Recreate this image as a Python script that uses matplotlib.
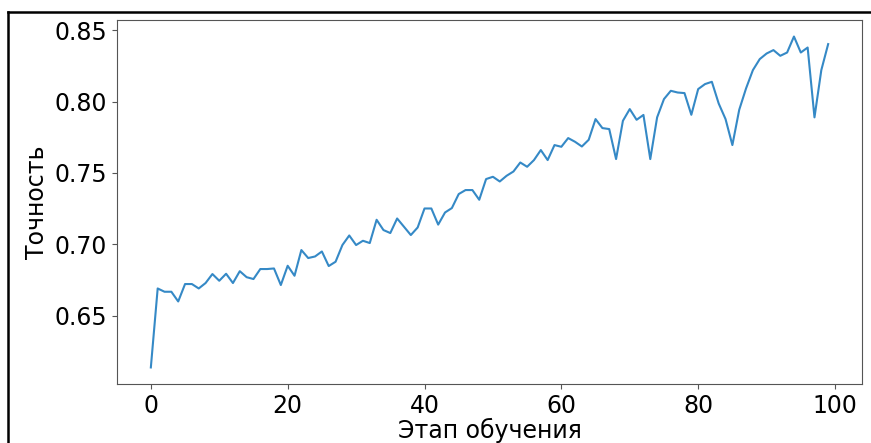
import numpy as np
import matplotlib
matplotlib.use("Agg")
import matplotlib.pyplot as plt
from matplotlib.lines import Line2D

# accuracy per training step
steps = list(range(100))
accuracy = [
    0.6138, 0.6691, 0.6668, 0.6668, 0.6600, 0.6722, 0.6722, 0.6691, 0.6729, 0.6792,
    0.6745, 0.6794, 0.6729, 0.6812, 0.6770, 0.6757, 0.6827, 0.6827, 0.6831, 0.6715,
    0.6850, 0.6780, 0.6960, 0.6904, 0.6915, 0.6950, 0.6848, 0.6878, 0.6995, 0.7062,
    0.6995, 0.7025, 0.7009, 0.7172, 0.7100, 0.7079, 0.7181, 0.7123, 0.7065, 0.7118,
    0.7251, 0.7251, 0.7138, 0.7223, 0.7254, 0.7352, 0.7380, 0.7380, 0.7312, 0.7457,
    0.7473, 0.7440, 0.7480, 0.7510, 0.7573, 0.7543, 0.7590, 0.7660, 0.7590, 0.7695,
    0.7683, 0.7744, 0.7718, 0.7685, 0.7732, 0.7877, 0.7814, 0.7807, 0.7597, 0.7865,
    0.7947, 0.7872, 0.7906, 0.7597, 0.7889, 0.8017, 0.8075, 0.8063, 0.8059, 0.7907,
    0.8087, 0.8122, 0.8138, 0.7986, 0.7877, 0.7695, 0.7942, 0.8092, 0.8220, 0.8297,
    0.8336, 0.8360, 0.8320, 0.8343, 0.8455, 0.8343, 0.8378, 0.7889, 0.8220, 0.8402,
]
x_label = "Этап обучения"
y_label = "Точность"

fig = plt.figure(figsize=(8.71, 4.43), dpi=100)
ax = fig.add_axes([0.1343, 0.1332, 0.8554, 0.8217])
ax.plot(steps, accuracy, color="#3589c6", linewidth=1.5)

ax.set_xlabel(x_label, fontsize=17, labelpad=0)
ax.set_ylabel(y_label, fontsize=17, labelpad=4)
ax.tick_params(labelsize=17)
ax.set_xticks([0, 20, 40, 60, 80, 100])
ax.set_yticks([0.65, 0.70, 0.75, 0.80, 0.85])
ax.set_yticklabels(["0.65", "0.70", "0.75", "0.80", "0.85"])
for s in ax.spines.values():
    s.set_color("#555555")
ax.tick_params(color="#555555")

# black frame of the screenshot (top and left edges visible)
fig.add_artist(Line2D([8 / 871, 1.0], [1 - 12 / 443, 1 - 12 / 443], color="black", linewidth=1.8))
fig.add_artist(Line2D([8 / 871, 8 / 871], [0.0, 1 - 12 / 443], color="black", linewidth=1.8))

fig.savefig("out.png", dpi=100)
